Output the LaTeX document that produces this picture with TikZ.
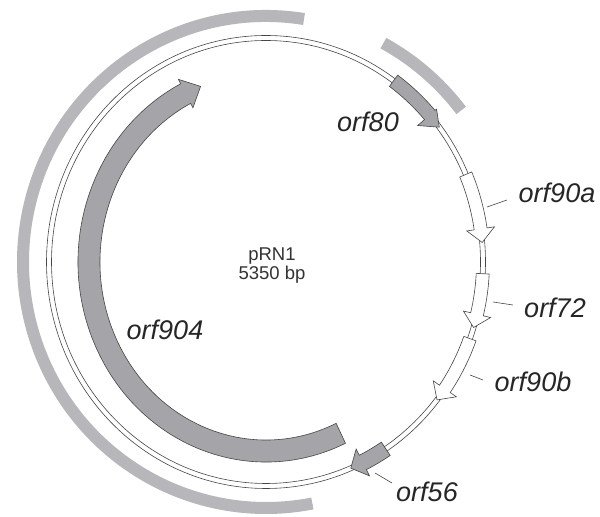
\documentclass[tikz,border=0pt]{standalone}
\usepackage{fontspec}
\setmainfont{Liberation Sans}
\definecolor{bandgray}{RGB}{182,182,187}
\definecolor{genegray}{RGB}{164,164,169}
\definecolor{edgegray}{RGB}{70,70,70}
% #1 style, #2 start angle, #3 head base angle, #4 tip angle, #5 x radius, #6 y radius,
% #7 half body width, #8 outer head half width, #9 inner head half width
\newcommand{\plasmidgene}[9]{%
  \draw[#1] ({266+(#5+#7)*cos(#2)},{255+(#6+#7)*sin(#2)})
    arc[start angle=#2, end angle=#3, x radius=#5+#7, y radius=#6+#7]
    -- ({266+(#5+#8)*cos(#3)},{255+(#6+#8)*sin(#3)})
    -- ({266+#5*cos(#4)},{255+#6*sin(#4)})
    -- ({266+(#5-#9)*cos(#3)},{255+(#6-#9)*sin(#3)})
    -- ({266+(#5-#7)*cos(#3)},{255+(#6-#7)*sin(#3)})
    arc[start angle=#3, end angle=#2, x radius=#5-#7, y radius=#6-#7]
    -- cycle;}
\begin{document}
\begin{tikzpicture}[x=1bp,y=1bp,
  band/.style={draw=bandgray, line width=12bp, line cap=butt},
  genefill/.style={fill=genegray, draw=edgegray, line width=0.6bp, line join=miter},
  geneopen/.style={fill=white, draw=edgegray, line width=0.6bp, line join=miter},
  backbone/.style={draw=edgegray, line width=0.6bp},
  lab/.style={font=\fontsize{27bp}{32bp}\selectfont\itshape, inner sep=0pt, text=black!85},
  leader/.style={draw=edgegray, line width=0.6bp}]
\useasboundingbox (0,0) rectangle (600,517);
\coordinate (ctr) at (266,255);
% outer bands
\draw[band] ({266+243*cos(81)},{255+246*sin(81)}) arc[start angle=81, end angle=281, x radius=243, y radius=246];
\draw[band] ({266+246*cos(61.5)},{255+249*sin(61.5)}) arc[start angle=61.5, end angle=37.5, x radius=246, y radius=249];
% backbone
\draw[backbone] (ctr) ellipse [x radius=219.5, y radius=226.5];
\draw[backbone] (ctr) ellipse [x radius=214.5, y radius=221.5];
% genes
\plasmidgene{genefill}{295}{117}{111.7}{177}{189}{11}{16}{16}
\plasmidgene{genefill}{54}{41}{37}{217}{224}{7}{9}{16}
\plasmidgene{geneopen}{23}{8.5}{5}{217}{224}{6.5}{14}{14}
\plasmidgene{geneopen}{-3}{-13.5}{-17}{217}{224}{6.5}{14}{14}
\plasmidgene{geneopen}{-20}{-34.5}{-38}{217}{224}{6.5}{14}{14}
\plasmidgene{genefill}{-56.5}{-63.5}{-67}{217}{224}{8}{15}{15}
% labels
\node[lab] (l80) at (368,395) {orf80};
\node[lab] (l90a) at (557,324) {orf90a};
\node[lab] (l72) at (555,209) {orf72};
\node[lab] (l90b) at (533,135) {orf90b};
\node[lab] (l56) at (427,25) {orf56};
\node[lab] (l904) at (165,187) {orf904};
\node[font=\fontsize{18.5bp}{19bp}\selectfont, align=center, text=black!80, inner sep=0pt] (title) at (272,251) {pRN1\\5350 bp};
% leaders
\coordinate (p90a) at (487,310); \coordinate (q90a) at (507,317);
\coordinate (p72) at (493,215); \coordinate (q72) at (513,212);
\coordinate (p90b) at (470,142); \coordinate (q90b) at (483,137);
\coordinate (p56) at (375,44); \coordinate (q56) at (392,34);
\draw[leader] (p90a) -- (q90a);
\draw[leader] (p72) -- (q72);
\draw[leader] (p90b) -- (q90b);
\draw[leader] (p56) -- (q56);
\end{tikzpicture}
\end{document}
